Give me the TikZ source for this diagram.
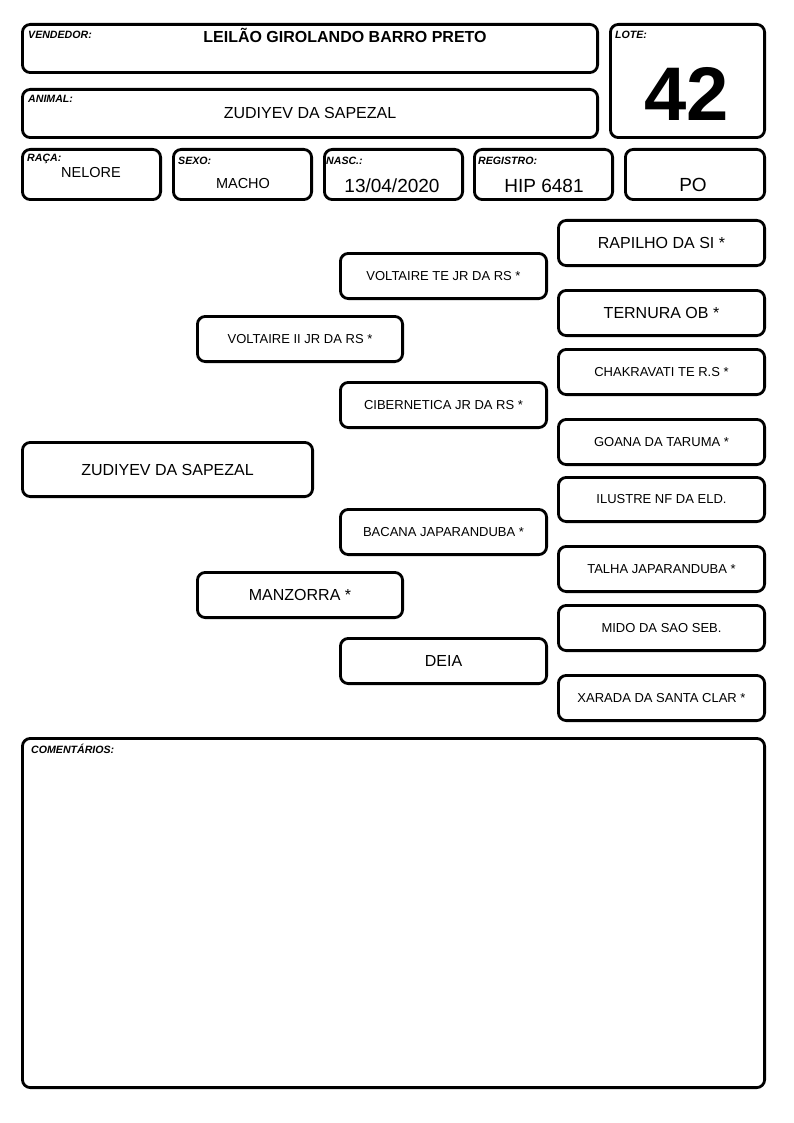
\documentclass[tikz,border=0pt]{standalone}
\usepackage{fontspec}
\setmainfont{Liberation Sans}
\newcommand\fsz[1]{\fontsize{#1}{#1}\selectfont}
\tikzset{
  box/.style={draw=black, line width=2.8pt, rounded corners=8pt, fill=white, inner sep=0pt, align=center},
  lab/.style={font=\fsz{10.6}\bfseries\itshape, anchor=base west, inner sep=0pt},
  val/.style={anchor=base, inner sep=0pt},
  small/.style={font=\fsz{13}},
  big/.style={font=\fsz{16}},
}
\newcommand\pbox[7]{\node[box,#6,minimum width={(#4-#2-2.8)*1pt},minimum height={(#5-#3-2.8)*1pt}] (#1) at ({(#2+#4)/2},{(#3+#5)/2}) {#7};}
\begin{document}
\begin{tikzpicture}[x=1pt,y=-1pt]
\useasboundingbox (0,0) rectangle (794,1123);
% header boxes
\pbox{vend}{21}{23}{599}{74}{}{}
\pbox{anim}{21}{88}{599}{139}{}{}
\pbox{lote}{609}{23}{766}{139}{}{}
\pbox{raca}{21}{148}{162}{201}{}{}
\pbox{sexo}{172}{148}{313}{201}{}{}
\pbox{nasc}{323}{148}{464}{201}{}{}
\pbox{regi}{473}{148}{614}{201}{}{}
\pbox{po}{624}{148}{766}{201}{}{}
% header labels
\node[lab] (lvend) at (28,39) {VENDEDOR:};
\node[lab] (lanim) at (28,103) {ANIMAL:};
\node[lab] (lraca) at (27,162) {RAÇA:};
\node[lab] (lsexo) at (178,165) {SEXO:};
\node[lab] (lnasc) at (326,165) {NASC.:};
\node[lab] (lregi) at (478,165) {REGISTRO:};
\node[lab] (llote) at (615,39) {LOTE:};
% header values
\node[val,font=\fsz{16}\bfseries] (tvend) at (345,43) {LEILÃO GIROLANDO BARRO PRETO};
\node[val,font=\fsz{16}] (tanim) at (310,119) {ZUDIYEV DA SAPEZAL};
\node[val,font=\fsz{14.5}] (traca) at (91,178) {NELORE};
\node[val,font=\fsz{14.5}] (tsexo) at (243,189) {MACHO};
\node[val,font=\fsz{19}] (tnasc) at (392,193) {13/04/2020};
\node[val,font=\fsz{19}] (tregi) at (544,193) {HIP 6481};
\node[val,font=\fsz{19}] (tpo) at (693,192) {PO};
\node[val,font=\fsz{76}\bfseries] (tlote) at (687,121) {42};
% pedigree
\pbox{animal}{21}{441}{314}{498}{big}{ZUDIYEV DA SAPEZAL}
\pbox{pai}{196}{315}{404}{363}{small}{VOLTAIRE II JR DA RS *}
\pbox{mae}{196}{571}{404}{619}{big}{MANZORRA *}
\pbox{avpp}{339}{252}{548}{300}{small}{VOLTAIRE TE JR DA RS *}
\pbox{avpm}{339}{381}{548}{429}{small}{CIBERNETICA JR DA RS *}
\pbox{avmp}{339}{508}{548}{556}{small}{BACANA JAPARANDUBA *}
\pbox{avmm}{339}{637}{548}{685}{big}{DEIA}
\pbox{b1}{557}{219}{766}{267}{big}{RAPILHO DA SI *}
\pbox{b2}{557}{289}{766}{337}{big}{TERNURA OB *}
\pbox{b3}{557}{348}{766}{396}{small}{CHAKRAVATI TE R.S *}
\pbox{b4}{557}{418}{766}{466}{small}{GOANA DA TARUMA *}
\pbox{b5}{557}{476}{766}{523}{small}{ILUSTRE NF DA ELD.}
\pbox{b6}{557}{545}{766}{593}{small}{TALHA JAPARANDUBA *}
\pbox{b7}{557}{604}{766}{652}{small}{MIDO DA SAO SEB.}
\pbox{b8}{557}{674}{766}{722}{small}{XARADA DA SANTA CLAR *}
% comments
\pbox{coment}{21}{737}{766}{1089}{}{}
\node[lab] (lcom) at (31,753) {COMENTÁRIOS:};
\end{tikzpicture}
\end{document}
